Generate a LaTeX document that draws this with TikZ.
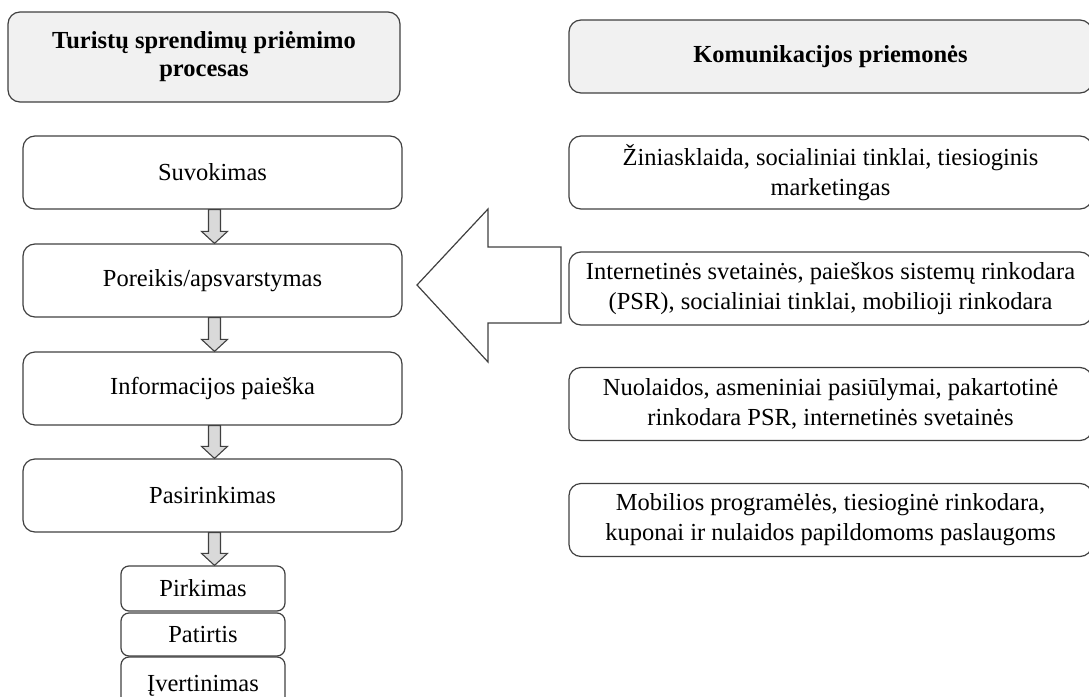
\documentclass[tikz,border=0pt]{standalone}
\usepackage{fontspec}
\setmainfont{Liberation Serif}
\usetikzlibrary{calc}
\definecolor{edge}{HTML}{404040}
\definecolor{headfill}{HTML}{F1F1F1}
\definecolor{arrowfill}{HTML}{D9D9D9}
\tikzset{
  box/.style={draw=edge, line width=1.2pt, rounded corners=12pt, inner sep=0pt,
    align=center, font=\fontsize{24.5}{30}\selectfont},
  headbox/.style={box, fill=headfill, font=\fontsize{24.5}{28}\selectfont\bfseries},
  smallbox/.style={box, rounded corners=8pt, minimum width=164pt},
  stage/.style={box, minimum width=379pt, minimum height=73pt},
  tool/.style={box, minimum width=523pt, minimum height=73pt},
  blockarrow/.style={draw=edge, fill=arrowfill, line width=1.1pt, line join=miter},
}
% small downward block arrow from the bottom of one node to the top of the next
\newcommand{\stepdown}[3][2pt]{%
  \path[blockarrow] let \p1=(#2.south), \p2=(#3.north) in
    (\x1+#1-6pt,\y1) -- (\x1+#1+6pt,\y1) -- (\x1+#1+6pt,\y2+12pt)
    -- (\x1+#1+13pt,\y2+12pt) -- (\x1+#1,\y2) -- (\x1+#1-13pt,\y2+12pt)
    -- (\x1+#1-6pt,\y2+12pt) -- cycle;}
\begin{document}
\begin{tikzpicture}[x=1pt,y=-1pt]
\useasboundingbox (0,0) rectangle (1089,696);
\clip (0,0) rectangle (1089,696);

% column headers
\node[headbox, minimum width=392pt, minimum height=90pt] (hproc) at (204,57)
  {Turistų sprendimų priėmimo\\procesas};
\node[headbox, minimum width=523pt, minimum height=73pt] (hcom) at (830.5,56.5)
  {Komunikacijos priemonės};

% decision stages
\node[stage] (s1) at (212.5,172.5) {Suvokimas};
\node[stage] (s2) at (212.5,280.5) {Poreikis/apsvarstymas};
\node[stage] (s3) at (212.5,388.5) {Informacijos paieška};
\node[stage] (s4) at (212.5,495.5) {Pasirinkimas};
\node[smallbox, minimum height=45pt] (p1) at (203,588.5) {Pirkimas};
\node[smallbox, minimum height=43pt] (p2) at (203,634.5) {Patirtis};
\node[smallbox, minimum height=60pt] (p3) at (203,687) {\raisebox{8pt}{Įvertinimas}};

% communication tools
\node[tool] (t1) at (830.5,172.5) {Žiniasklaida, socialiniai tinklai, tiesioginis\\marketingas};
\node[tool] (t2) at (830.5,288.5) {Internetinės svetainės, paieškos sistemų rinkodara\\(PSR), socialiniai tinklai, mobilioji rinkodara};
\node[tool] (t3) at (830.5,404) {Nuolaidos, asmeniniai pasiūlymai, pakartotinė\\rinkodara PSR, internetinės svetainės};
\node[tool] (t4) at (830.5,520) {Mobilios programėlės, tiesioginė rinkodara,\\kuponai ir nulaidos papildomoms paslaugoms};

% arrows between stages
\stepdown{s1}{s2}
\stepdown{s2}{s3}
\stepdown{s3}{s4}
\stepdown{s4}{p1}

% large arrow pointing from the tools to the stages
\draw[edge, line width=1.2pt, line join=miter, fill=white]
  (417,285) -- (488,209) -- (488,247) -- (561,247) -- (561,323)
  -- (488,323) -- (488,362) -- cycle;
\end{tikzpicture}
\end{document}
